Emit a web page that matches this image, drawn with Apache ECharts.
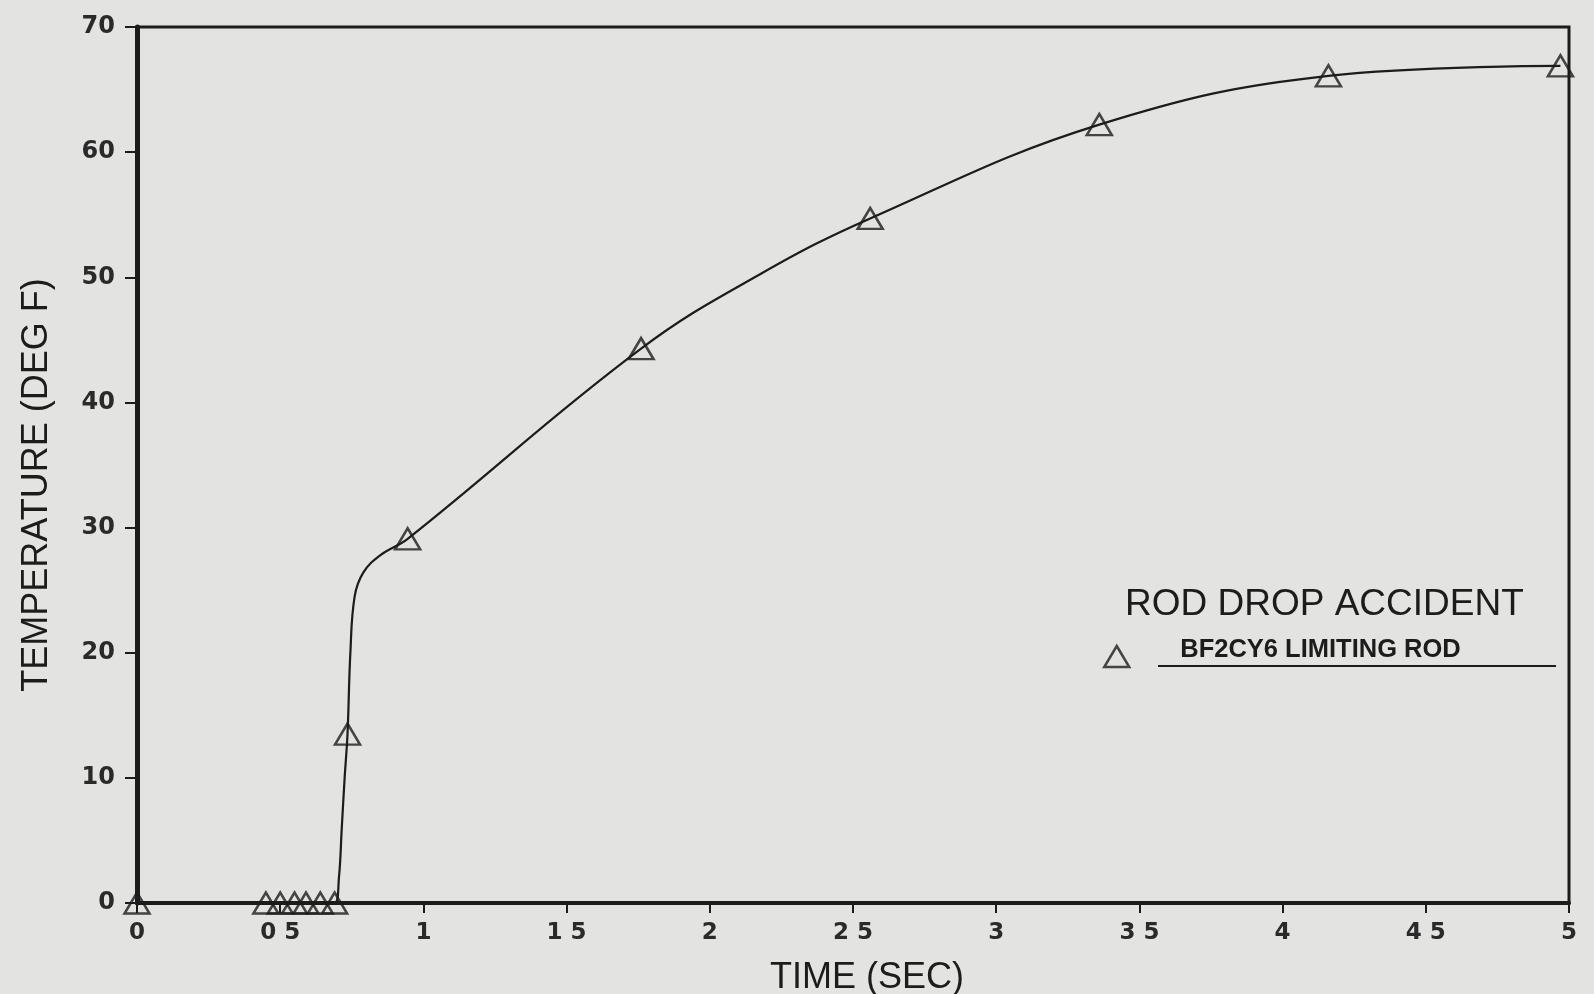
<!DOCTYPE html>
<html>
<head>
<meta charset="utf-8">
<script src="https://cdn.jsdelivr.net/npm/echarts@6/dist/echarts.min.js"></script>
<style>
  html, body { margin: 0; padding: 0; background: #e3e3e1; }
  #chart { width: 1594px; height: 994px; }
</style>
</head>
<body>
<div id="chart"></div>
<script>
// ---- data ----
const curveTime = [0, 0.69, 0.705, 0.715, 0.725, 0.735, 0.745, 0.76, 0.79, 0.85, 0.945, 1.76, 2.18, 2.56, 3.36, 4.16, 4.97];
const curveTemp = [0, 0, 2, 6, 10, 13.5, 20, 24.5, 26.4, 27.8, 29.1, 44.3, 50.3, 54.7, 62.2, 66.1, 66.9];

const markerTime = [0, 0.45, 0.5, 0.55, 0.59, 0.64, 0.69, 0.735, 0.945, 1.76, 2.56, 3.36, 4.16, 4.97];
const markerTemp = [0, 0, 0, 0, 0, 0, 0, 13.5, 29.1, 44.3, 54.7, 62.2, 66.1, 66.9];

const xTickLabels = ['0', '0 5', '1', '1 5', '2', '2 5', '3', '3 5', '4', '4 5', '5'];
const yTickLabels = ['0', '10', '20', '30', '40', '50', '60', '70'];

const titleText = 'ROD DROP ACCIDENT';
const seriesName = 'BF2CY6 LIMITING ROD';
const xName = 'TIME (SEC)';
const yName = 'TEMPERATURE (DEG F)';

// ---- build chart ----
const ink = '#1c1c1c';
const chart = echarts.init(document.getElementById('chart'), null, { renderer: 'canvas' });

const curveData = curveTime.map((t, i) => [t, curveTemp[i]]);
const markerData = markerTime.map((t, i) => [t, markerTemp[i]]);

chart.setOption({
  backgroundColor: '#e3e3e1',
  animation: false,
  title: {
    text: titleText,
    left: 1125,
    top: 586,
    padding: 0,
    textStyle: { fontFamily: 'Liberation Sans', fontSize: 37, fontWeight: 'normal', color: ink }
  },
  legend: {
    data: [seriesName],
    left: 1103,
    top: 637,
    padding: 0,
    itemWidth: 25,
    itemHeight: 21,
    icon: 'triangle',
    itemStyle: { color: 'rgba(0,0,0,0)', borderColor: ink, borderWidth: 2.5 },
    formatter: '{t|{name}}',
    textStyle: {
      rich: {
        t: {
          fontFamily: 'Liberation Sans', fontSize: 25.5, fontWeight: 'bold', color: ink,
          padding: [0, 0, 13, 46]
        }
      }
    }
  },
  graphic: [{
    type: 'line',
    shape: { x1: 1158, y1: 666, x2: 1556, y2: 666 },
    style: { stroke: ink, lineWidth: 2 }
  }],
  grid: {
    left: 137, right: 25, top: 27, bottom: 91,
    outerBoundsMode: 'none',
    containLabel: false,
    show: true, borderColor: ink, borderWidth: 3, backgroundColor: 'transparent'
  },
  xAxis: {
    type: 'value', min: 0, max: 5, interval: 0.5,
    name: xName, nameLocation: 'middle', nameGap: 57,
    nameTextStyle: { fontFamily: 'Liberation Sans', fontSize: 36, color: ink, padding: [0, 0, 0, 28] },
    axisLine: { show: true, onZero: false, lineStyle: { color: ink, width: 4 } },
    axisTick: { show: true, length: 10, lineStyle: { color: ink, width: 2 } },
    axisLabel: {
      margin: 19, fontFamily: 'DejaVu Sans', fontSize: 23, fontWeight: 'bold', color: '#2a2a2a',
      formatter: (v) => xTickLabels[Math.round(v / 0.5)]
    },
    splitLine: { show: false }
  },
  yAxis: {
    type: 'value', min: 0, max: 70, interval: 10,
    name: yName, nameLocation: 'middle', nameGap: 82, nameRotate: 90,
    nameTextStyle: { fontFamily: 'Liberation Sans', fontSize: 36, color: ink, padding: [0, 40, 0, 0] },
    axisLine: { show: true, onZero: false, lineStyle: { color: ink, width: 5 } },
    axisTick: { show: true, length: 12, lineStyle: { color: ink, width: 2 } },
    axisLabel: {
      margin: 22, fontFamily: 'DejaVu Sans', fontSize: 24, fontWeight: 'bold', color: '#2a2a2a',
      formatter: (v) => yTickLabels[Math.round(v / 10)]
    },
    splitLine: { show: false }
  },
  series: [
    {
      name: 'curve',
      type: 'line',
      data: curveData,
      smooth: 0.4,
      showSymbol: false,
      symbol: 'none',
      lineStyle: { color: ink, width: 2.2 },
      z: 2
    },
    {
      name: seriesName,
      type: 'scatter',
      data: markerData,
      symbol: 'triangle',
      symbolSize: [25, 21],
      itemStyle: { color: 'rgba(0,0,0,0)', borderColor: ink, borderWidth: 2.5 },
      z: 3
    }
  ]
});
</script>
</body>
</html>
